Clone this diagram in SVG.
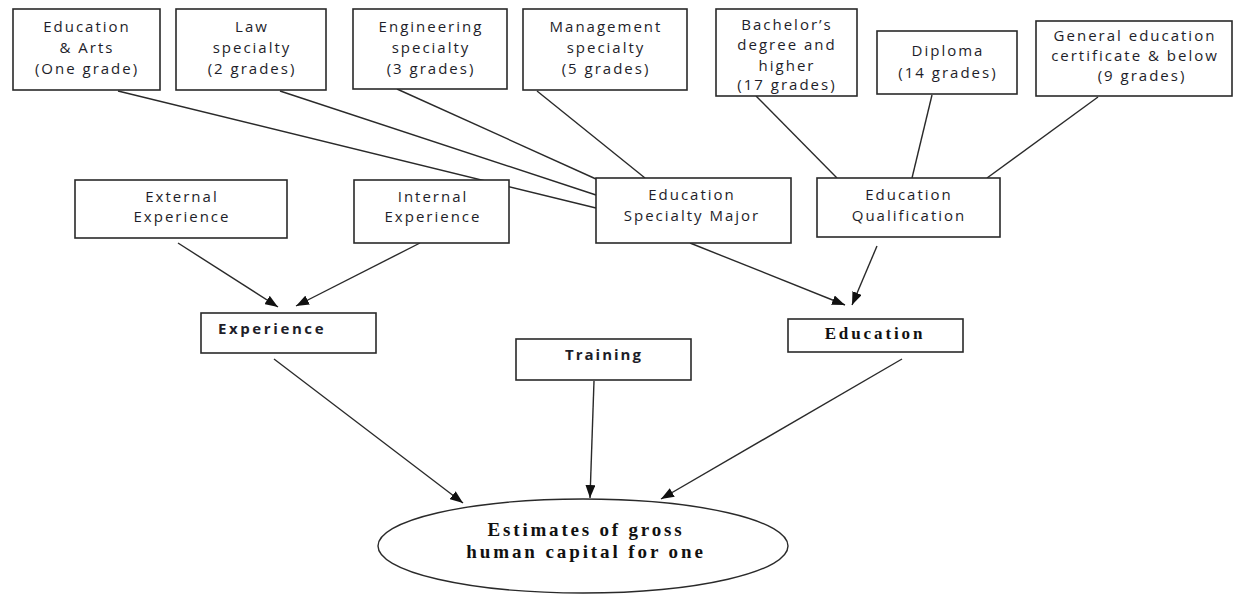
<svg xmlns="http://www.w3.org/2000/svg" width="1236" height="594" viewBox="0 0 1236 594">
<style>
.box{fill:#fff;stroke:#2a2a2a;stroke-width:1.6}
.t{font-family:"Open Sans","Liberation Sans",sans-serif;font-size:15px;letter-spacing:2px;fill:#1e1e2a;text-anchor:middle}
.b{font-family:"Open Sans","Liberation Sans",sans-serif;font-size:15px;font-weight:bold;letter-spacing:2px;fill:#1e1e2a}
.s{font-family:"Liberation Serif","Times New Roman",serif;font-weight:bold;fill:#111;text-anchor:middle}
.ln{stroke:#2a2a2a;stroke-width:1.4;fill:none}
.ar{stroke:#2a2a2a;stroke-width:1.4;fill:none;marker-end:url(#ah)}
</style>
<defs>
<marker id="ah" markerUnits="userSpaceOnUse" markerWidth="14" markerHeight="10" refX="13" refY="5" orient="auto">
<path d="M0,0 L13,5 L0,10 z" fill="#111"/>
</marker>
</defs>
<rect width="1236" height="594" fill="#fff"/>
<g id="connectors">
<line class="ln" x1="118" y1="91" x2="596" y2="208"/>
<line class="ln" x1="280" y1="91" x2="596" y2="195"/>
<line class="ln" x1="397" y1="89" x2="596" y2="179"/>
<line class="ln" x1="537" y1="91" x2="645" y2="178"/>
<line class="ln" x1="756" y1="96" x2="837" y2="178"/>
<line class="ln" x1="932" y1="95" x2="912" y2="178"/>
<line class="ln" x1="1098" y1="97" x2="987" y2="178"/>
<line class="ar" x1="178" y1="243" x2="278" y2="307"/>
<line class="ar" x1="420" y1="243" x2="296" y2="306"/>
<line class="ar" x1="690" y1="243" x2="845" y2="305"/>
<line class="ar" x1="877" y1="246" x2="852" y2="305"/>
<line class="ar" x1="274" y1="359" x2="463" y2="503"/>
<line class="ar" x1="594" y1="381" x2="590" y2="498"/>
<line class="ar" x1="902" y1="359" x2="661" y2="499"/>
</g>
<g id="edu-arts">
<rect class="box" x="13" y="9" width="147" height="81"/>
<text class="t" x="87" y="32">Education</text>
<text class="t" x="87" y="53">&amp; Arts</text>
<text class="t" x="87" y="74">(One grade)</text>
</g>
<g id="law">
<rect class="box" x="176" y="9" width="150" height="81"/>
<text class="t" x="252" y="32">Law</text>
<text class="t" x="252" y="53">specialty</text>
<text class="t" x="252" y="74">(2 grades)</text>
</g>
<g id="engineering">
<rect class="box" x="353" y="9" width="154" height="80"/>
<text class="t" x="431" y="32">Engineering</text>
<text class="t" x="431" y="53">specialty</text>
<text class="t" x="431" y="74">(3 grades)</text>
</g>
<g id="management">
<rect class="box" x="523" y="9" width="164" height="81"/>
<text class="t" x="606" y="32">Management</text>
<text class="t" x="606" y="53">specialty</text>
<text class="t" x="606" y="74">(5 grades)</text>
</g>
<g id="bachelor">
<rect class="box" x="716" y="9" width="141" height="87"/>
<text class="t" x="787" y="30">Bachelor’s</text>
<text class="t" x="787" y="50">degree and</text>
<text class="t" x="787" y="71">higher</text>
<text class="t" x="787" y="90">(17 grades)</text>
</g>
<g id="diploma">
<rect class="box" x="877" y="31" width="140" height="63"/>
<text class="t" x="948" y="56">Diploma</text>
<text class="t" x="948" y="78">(14 grades)</text>
</g>
<g id="general">
<rect class="box" x="1036" y="21" width="196" height="75"/>
<text class="t" x="1135" y="41">General education</text>
<text class="t" x="1135" y="61">certificate &amp; below</text>
<text class="t" x="1142" y="81">(9 grades)</text>
</g>
<g id="external">
<rect class="box" x="75" y="180" width="212" height="58"/>
<text class="t" x="182" y="202">External</text>
<text class="t" x="182" y="222">Experience</text>
</g>
<g id="internal">
<rect class="box" x="354" y="180" width="155" height="63"/>
<text class="t" x="433" y="202">Internal</text>
<text class="t" x="433" y="222">Experience</text>
</g>
<g id="specialty">
<rect class="box" x="596" y="178" width="195" height="65"/>
<text class="t" x="692" y="200">Education</text>
<text class="t" x="692" y="221">Specialty Major</text>
</g>
<g id="qualification">
<rect class="box" x="817" y="178" width="183" height="59"/>
<text class="t" x="909" y="200">Education</text>
<text class="t" x="909" y="221">Qualification</text>
</g>
<g id="experience">
<rect class="box" x="201" y="313" width="175" height="40"/>
<text class="b" x="218" y="334" style="letter-spacing:2.6px">Experience</text>
</g>
<g id="training">
<rect class="box" x="516" y="339" width="175" height="41"/>
<text class="b" x="565" y="360">Training</text>
</g>
<g id="education">
<rect class="box" x="788" y="319" width="175" height="33"/>
<text class="s" x="875" y="339" style="font-size:17px;letter-spacing:2.9px">Education</text>
</g>
<g id="estimate">
<ellipse cx="583" cy="546" rx="205" ry="47" fill="#fff" stroke="#2a2a2a" stroke-width="1.4"/>
<text class="s" x="586" y="536" style="font-size:19px;letter-spacing:2.8px">Estimates of gross</text>
<text class="s" x="586" y="558" style="font-size:19px;letter-spacing:2.9px">human capital for one</text>
</g>
</svg>
